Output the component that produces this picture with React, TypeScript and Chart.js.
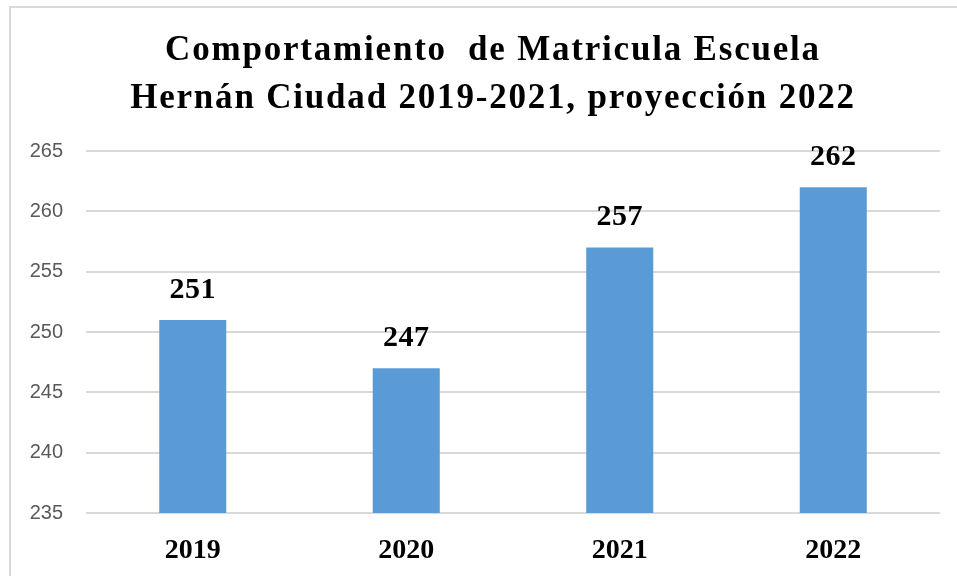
import React, { useEffect, useRef } from "react";
import { Chart, registerables } from "chart.js";

Chart.register(...registerables);

const titleLines = ["Comportamiento  de Matricula Escuela", "Hernán Ciudad 2019-2021, proyección 2022"];
const categories = ["2019", "2020", "2021", "2022"];
const values = [251, 247, 257, 262];
const yMin = 235;
const yMax = 265;
const yStep = 5;

const SERIF = "'Liberation Serif', 'DejaVu Serif', serif";
const SANS = "'Liberation Sans', 'DejaVu Sans', sans-serif";

const decorPlugin = {
  id: "decor",
  beforeDraw(chart: any) {
    const ctx = chart.ctx;
    ctx.save();
    ctx.fillStyle = "#ffffff";
    ctx.fillRect(0, 0, chart.width, chart.height);
    ctx.strokeStyle = "#d9d9d9";
    ctx.lineWidth = 2;
    ctx.strokeRect(10, 7, chart.width + 40, chart.height + 40);
    ctx.restore();
  },
  afterDraw(chart: any) {
    const ctx = chart.ctx;
    ctx.save();
    ctx.fillStyle = "#000000";
    ctx.textAlign = "center";
    ctx.textBaseline = "alphabetic";
    ctx.font = `bold 35px ${SERIF}`;
    (ctx as any).letterSpacing = "1.8px";
    ctx.fillText(titleLines[0], 493, 60);
    ctx.fillText(titleLines[1], 493, 108);
    (ctx as any).letterSpacing = "0.5px";
    const meta = chart.getDatasetMeta(0);
    ctx.font = `bold 30px ${SERIF}`;
    ctx.textBaseline = "middle";
    meta.data.forEach((bar: any, i: number) => {
      ctx.fillText(String(values[i]), bar.x, bar.y - 30);
    });
    ctx.restore();
  },
};

export default function App() {
  const ref = useRef<HTMLCanvasElement>(null);
  useEffect(() => {
    document.body.style.margin = "0";
    const chart = new Chart(ref.current!, {
      type: "bar",
      data: {
        labels: categories,
        datasets: [
          {
            data: values,
            backgroundColor: "#5B9BD5",
            borderWidth: 0,
            categoryPercentage: 1,
            barPercentage: 0.314,
          },
        ],
      },
      options: {
        animation: false,
        responsive: false,
        maintainAspectRatio: false,
        layout: { padding: { top: 151, right: 17, left: 0, bottom: 0 } },
        plugins: { legend: { display: false }, title: { display: false }, tooltip: { enabled: false } },
        scales: {
          x: {
            grid: { display: false, drawTicks: false },
            border: { display: false },
            ticks: { color: "#000", font: { family: SERIF, size: 28, weight: "bold" }, padding: 21 },
            afterFit: (s: any) => { s.height = 63; },
          },
          y: {
            min: yMin,
            max: yMax,
            ticks: { stepSize: yStep, color: "#595959", font: { family: SANS, size: 20 }, padding: 23 },
            grid: { color: "#d9d9d9", lineWidth: 2, drawTicks: false },
            border: { display: false },
            afterFit: (s: any) => { s.width = 86; },
          },
        },
      },
      plugins: [decorPlugin],
    });
    return () => chart.destroy();
  }, []);
  return (
    <div style={{ width: 957, height: 576 }}>
      <canvas ref={ref} width={957} height={576} style={{ display: "block" }} />
    </div>
  );
}
